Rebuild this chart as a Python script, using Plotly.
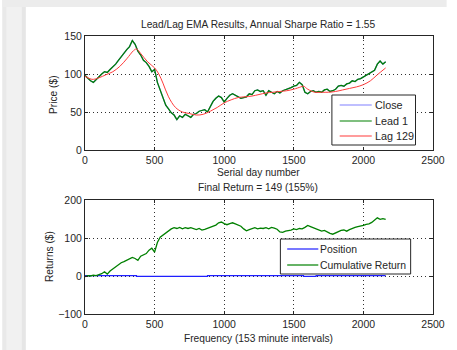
import plotly.graph_objects as go

# ---- price series (sampled every 20 days) ----
days = list(range(0, 2161, 20))
close = [98, 94, 91, 89, 93, 96, 100, 103, 102, 106, 109, 113, 118, 123, 128, 132, 136, 144, 139, 130,
         125, 118, 115, 110, 103, 106, 89, 79, 69, 59, 54, 49, 46, 40, 45, 43, 47, 45, 43, 47,
         48, 51, 52, 53, 50, 58, 64, 68, 71, 69, 63, 68, 72, 74, 72, 70, 68, 69, 70, 74,
         73, 78, 79, 77, 78, 72, 78, 76, 74, 77, 75, 78, 79, 80, 82, 84, 85, 89, 86, 76,
         74, 77, 78, 76, 77, 76, 79, 80, 77, 78, 80, 84, 85, 84, 87, 88, 91, 90, 93, 94,
         96, 98, 100, 102, 105, 113, 117, 113, 116]
lead = close  # a 1-period EMA is the close itself

lag_days = [0, 50, 100, 150, 200, 250, 300, 350, 370, 400, 450, 500, 530, 560, 600, 650, 700, 750,
            800, 850, 900, 950, 1000, 1050, 1100, 1150, 1200, 1250, 1300, 1350, 1400, 1450, 1500,
            1550, 1570, 1600, 1650, 1700, 1750, 1800, 1850, 1900, 1950, 2000, 2050, 2100, 2160]
lag = [97, 93, 95, 99, 103, 110, 120, 131, 133, 127, 116, 108, 100, 88, 70, 56, 50, 48,
       46, 47, 51, 56, 62, 66, 69, 70, 71, 73, 75, 76, 77, 78, 80,
       83, 84, 80, 76, 76, 76, 77, 79, 81, 83, 86, 91, 99, 108]

# ---- strategy results ----
cum_return = [-2, 1, 0, 2, 1, 3, 6, 11, 5, 13, 19, 25, 31, 35, 38, 41, 44, 49, 46, 41,
              52, 56, 59, 68, 73, 63, 88, 102, 108, 114, 118, 124, 127, 125, 128, 124, 127, 125, 127, 124,
              122, 125, 121, 123, 126, 129, 131, 134, 140, 142, 138, 135, 138, 140, 137, 134, 131, 124, 119, 122,
              125, 127, 124, 126, 125, 127, 124, 128, 126, 123, 116, 115, 118, 119, 121, 124, 122, 125, 124, 128,
              133, 130, 127, 125, 122, 118, 120, 115, 112, 110, 114, 117, 120, 121, 118, 122, 126, 128, 130, 131,
              133, 136, 137, 141, 146, 153, 149, 151, 149]
pos_days = [0, 370, 880, 1570, 1660, 2160]
pos_vals = [1, -1, 1, -1, 1, 1]

final_ret = cum_return[-1]
sharpe = 1.55

FONT = "Liberation Sans, Arial, sans-serif"
INK = "#262626"
GREEN = "#008000"
RED = "#ff3b3b"
BLUE = "#1f1fff"
CLOSE_BLUE = "#8080ff"

fig = go.Figure()
fig.add_trace(go.Scatter(x=days, y=close, mode="lines", name="Close",
                         line=dict(color=CLOSE_BLUE, width=1.3)))
fig.add_trace(go.Scatter(x=days, y=lead, mode="lines", name="Lead 1",
                         line=dict(color=GREEN, width=1.3)))
fig.add_trace(go.Scatter(x=lag_days, y=lag, mode="lines", name="Lag 129",
                         line=dict(color=RED, width=1, shape="spline")))

fig.add_trace(go.Scatter(x=pos_days, y=pos_vals, mode="lines", name="Position",
                         line=dict(color=BLUE, width=1.1, shape="hv"),
                         xaxis="x2", yaxis="y2"))
fig.add_trace(go.Scatter(x=days, y=cum_return, mode="lines", name="Cumulative Return",
                         line=dict(color=GREEN, width=1.3),
                         xaxis="x2", yaxis="y2"))

axis_common = dict(showline=True, linecolor=INK, linewidth=1, mirror="ticks",
                   ticks="inside", ticklen=3, tickcolor=INK,
                   showgrid=True, gridcolor="#303030", griddash="1px,3px", gridwidth=1,
                   zeroline=False, tickfont=dict(family=FONT, size=10.5, color=INK))

H = 350
W = 457
ml, mr, mt, mb = 85, 14, 36, 36
pw = W - ml - mr
ph = H - mt - mb


def px(x):
    return (x - ml) / pw


def py(y):
    return (H - mb - y) / ph


fig.update_layout(
    width=W, height=H,
    margin=dict(l=ml, r=mr, t=mt, b=mb),
    paper_bgcolor="white", plot_bgcolor="white",
    showlegend=False,
    xaxis=dict(domain=[0, 1], range=[0, 2500], dtick=500, anchor="y", **axis_common),
    yaxis=dict(domain=[py(150), 1], range=[0, 150], dtick=50, anchor="x", **axis_common),
    xaxis2=dict(domain=[0, 1], range=[0, 2500], dtick=500, anchor="y2", **axis_common),
    yaxis2=dict(domain=[0, py(200)], range=[-100, 200], dtick=100, anchor="x2", **axis_common),
)

# window frame around the figure
fig.add_shape(type="rect", xref="paper", yref="paper", layer="below",
              x0=px(0), x1=px(24), y0=py(H), y1=py(0), fillcolor="#f1f1f1", line_width=0)
fig.add_shape(type="rect", xref="paper", yref="paper", layer="below",
              x0=px(0), x1=px(4), y0=py(H), y1=py(0), fillcolor="#e9e9e9", line_width=0)
fig.add_shape(type="rect", xref="paper", yref="paper", layer="below",
              x0=px(20), x1=px(24), y0=py(H), y1=py(7), fillcolor="#e6e6e6", line_width=0)
fig.add_shape(type="rect", xref="paper", yref="paper", layer="below",
              x0=px(0), x1=px(W), y0=py(7), y1=py(0), fillcolor="#ececec", line_width=0)


def legend_box(x0, y0, x1, y1, entries, line_x0, line_x1, text_x, size):
    fig.add_shape(type="rect", xref="paper", yref="paper", layer="above",
                  x0=px(x0), x1=px(x1), y0=py(y1), y1=py(y0),
                  fillcolor="white", line=dict(color=INK, width=1))
    for label, color, yy in entries:
        fig.add_shape(type="line", xref="paper", yref="paper", layer="above",
                      x0=px(line_x0), x1=px(line_x1), y0=py(yy), y1=py(yy),
                      line=dict(color=color, width=1.2))
        fig.add_annotation(text=label, x=px(text_x), y=py(yy), xref="paper", yref="paper",
                           xanchor="left", yanchor="middle", showarrow=False,
                           font=dict(family=FONT, size=size, color=INK))


legend_box(339, 95, 425, 145,
           [("Close", CLOSE_BLUE, 105), ("Lead 1", GREEN, 121), ("Lag 129", RED, 136)],
           347, 380, 381, 10.8)
legend_box(286, 239, 420, 274,
           [("Position", BLUE, 249), ("Cumulative Return", GREEN, 265)],
           293, 325, 325, 10.4)

texts = [
    (f"Lead/Lag EMA Results, Annual Sharpe Ratio = {sharpe:.2f}", 263, 24, 0),
    ("Serial day number", 263, 172, 0),
    (f"Final Return = {final_ret} (155%)", 263, 188, 0),
    ("Frequency (153 minute intervals)", 263, 338, 0),
    ("Price ($)", 52, 94, -90),
    ("Returns ($)", 48, 257, -90),
]
for txt, x, y, ang in texts:
    fig.add_annotation(text=txt, x=px(x), y=py(y), xref="paper", yref="paper",
                       xanchor="center", yanchor="middle", showarrow=False, textangle=ang,
                       font=dict(family=FONT, size=10.2, color=INK))

fig.write_html("out.html")
